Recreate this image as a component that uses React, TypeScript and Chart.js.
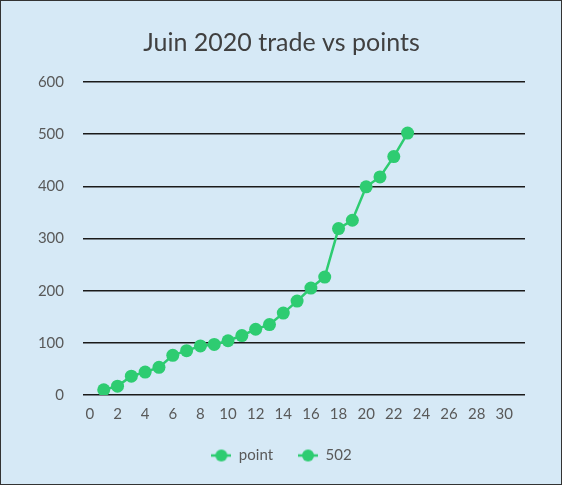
import React, { useEffect, useRef } from 'react';
import { Chart, registerables } from 'chart.js';

Chart.register(...registerables);

const chartTitle = 'Juin 2020 trade vs points';
const categories = ['0','1','2','3','4','5','6','7','8','9','10','11','12','13','14','15','16','17','18','19','20','21','22','23','24','25','26','27','28','29','30','31'];
const pointValues = [null, 10, 17, 36, 44, 53, 76, 85, 94, 97, 104, 114, 126, 135, 157, 180, 205, 226, 319, 335, 399, 418, 457, 502];
const series502Values: (number | null)[] = [];
const yTicks = [0, 100, 200, 300, 400, 500, 600];

const GREEN = '#2ecc71';
const TEXT = '#595959';

function makeLegendMarker(): HTMLCanvasElement {
  const c = document.createElement('canvas');
  c.width = 20;
  c.height = 14;
  const ctx = c.getContext('2d')!;
  ctx.strokeStyle = GREEN;
  ctx.lineWidth = 2.5;
  ctx.beginPath();
  ctx.moveTo(0, 7);
  ctx.lineTo(20, 7);
  ctx.stroke();
  ctx.fillStyle = GREEN;
  ctx.beginPath();
  ctx.arc(10, 7, 6, 0, Math.PI * 2);
  ctx.fill();
  return c;
}

export default function App() {
  const ref = useRef<HTMLCanvasElement | null>(null);

  useEffect(() => {
    if (!ref.current) return;
    const marker = makeLegendMarker();
    const chart = new Chart(ref.current, {
      type: 'line',
      data: {
        labels: categories,
        datasets: [
          {
            label: 'point',
            data: pointValues,
            borderColor: GREEN,
            backgroundColor: GREEN,
            borderWidth: 2.5,
            pointRadius: 6.5,
            pointBorderWidth: 0,
            pointBackgroundColor: GREEN,
            tension: 0,
            spanGaps: false,
          },
          {
            label: '502',
            data: series502Values,
            borderColor: GREEN,
            backgroundColor: GREEN,
            borderWidth: 2.5,
            pointRadius: 6.5,
            pointBorderWidth: 0,
          },
        ],
      },
      options: {
        animation: false,
        responsive: false,
        maintainAspectRatio: false,
        layout: { padding: { left: 37, right: 36, top: 0, bottom: 11 } },
        scales: {
          x: {
            type: 'category',
            offset: true,
            grid: { display: false, drawTicks: true, tickLength: 10 },
            border: { display: false },
            ticks: {
              autoSkip: false,
              maxRotation: 0,
              color: TEXT,
              padding: 0,
              font: { family: 'Lato', size: 15 },
              callback: function (this: any, _v: any, i: number) {
                return i % 2 === 0 ? categories[i] : '';
              },
            },
          },
          y: {
            min: yTicks[0],
            max: yTicks[yTicks.length - 1],
            afterBuildTicks: (axis: any) => {
              axis.ticks = yTicks.map((v) => ({ value: v }));
            },
            afterFit: (axis: any) => {
              axis.width = 45;
            },
            grid: { color: '#1a1a1a', lineWidth: 1.5, drawTicks: false },
            border: { display: false },
            ticks: {
              color: TEXT,
              padding: 19,
              font: { family: 'Lato', size: 15 },
            },
          },
        },
        plugins: {
          title: {
            display: true,
            text: chartTitle,
            color: '#404040',
            font: { family: 'Lato', size: 25, weight: 'normal' },
            padding: { top: 27, bottom: 24 },
          },
          legend: {
            position: 'bottom',
            labels: {
              color: TEXT,
              font: { family: 'Lato', size: 15 },
              usePointStyle: true,
              pointStyleWidth: 20,
              padding: 25,
              generateLabels: (c: any) => {
                const items = Chart.defaults.plugins.legend.labels.generateLabels(c);
                return items.map((it: any) => ({ ...it, pointStyle: marker, hidden: false }));
              },
            },
          },
          tooltip: { enabled: false },
        },
      },
    });
    return () => chart.destroy();
  }, []);

  return (
    <div
      style={{
        position: 'absolute',
        left: 0,
        top: 0,
        width: 560,
        height: 483,
        border: '1px solid #333',
        background: '#d6e9f6',
      }}
    >
      <canvas ref={ref} width={560} height={483} style={{ display: 'block' }} />
    </div>
  );
}
